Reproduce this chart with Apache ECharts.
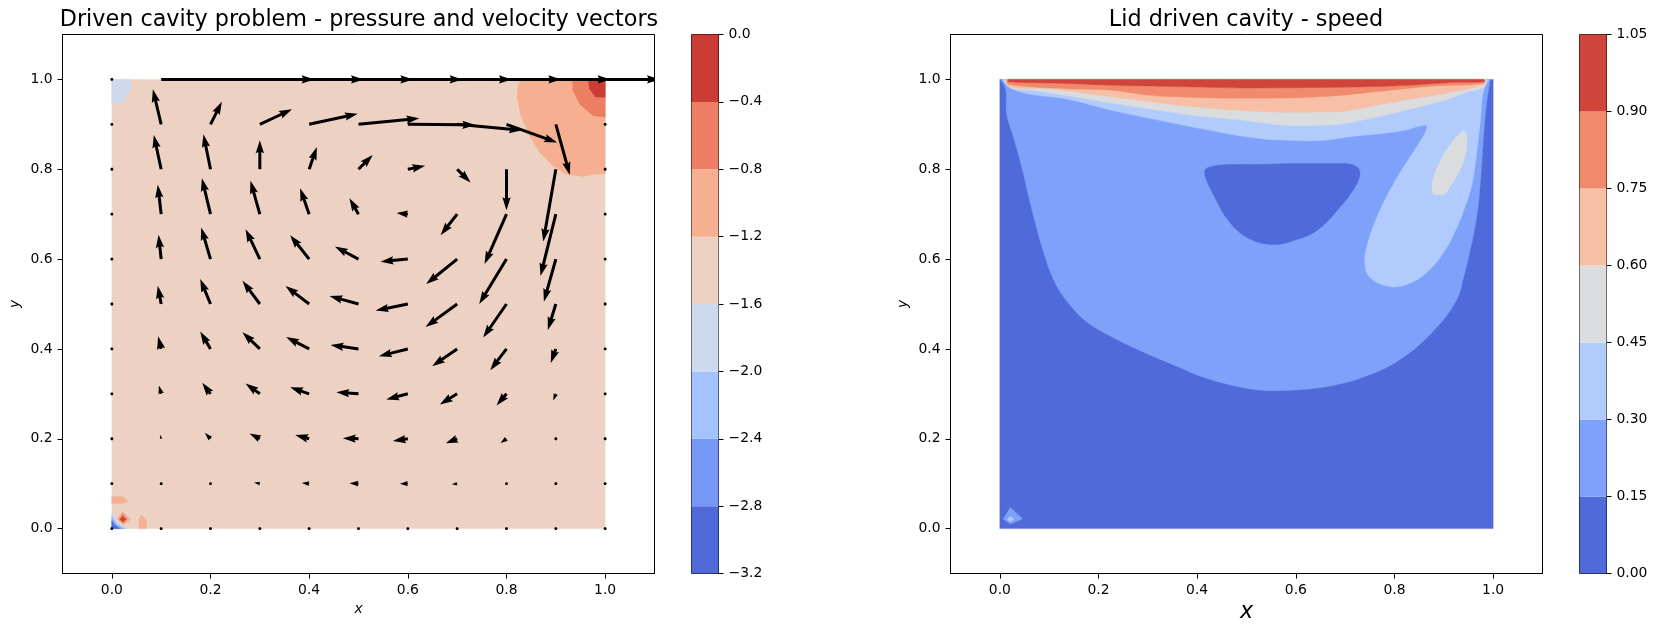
<!DOCTYPE html>
<html><head><meta charset="utf-8">
<style>html,body{margin:0;padding:0;background:#fff}#c{width:1656px;height:632px}</style>
<script src="https://cdn.jsdelivr.net/npm/echarts@6/dist/echarts.min.js"></script>
</head><body><div id="c"></div>
<script>
const TITLE_LEFT = 'Driven cavity problem - pressure and velocity vectors';
const TITLE_RIGHT = 'Lid driven cavity - speed';
const AXIS_TICKS = [0, 0.2, 0.4, 0.6, 0.8, 1.0];

const PRESSURE_LEVELS = [-3.2, -2.8, -2.4, -2.0, -1.6, -1.2, -0.8, -0.4, 0.0];
const PRESSURE_COLORS = ['#4f69d9', '#7597f6', '#a3c2fe', '#cdd9ec', '#edd1c2', '#f7af91', '#ec7f63', '#cc3c36'];
const SPEED_LEVELS = [0, 0.15, 0.30, 0.45, 0.60, 0.75, 0.90, 1.05];
const SPEED_COLORS = ['#4f6bd9', '#7ea2fa', '#b1cbfc', '#dbdcde', '#f6bfa6', '#f18a6d', '#cf453c'];

// velocity grid; rows of U and V run from y=0 to y=1, columns from x=0 to x=1
const GRID_X = [0, .1, .2, .3, .4, .5, .6, .7, .8, .9, 1];
const GRID_Y = [0, .1, .2, .3, .4, .5, .6, .7, .8, .9, 1];
const U = [
 [0, 0, 0, 0, 0, 0, 0, 0, 0, 0, 0],
 [0, -.001, -.002, -.037, -.048, -.059, -.052, -.035, -.003, 0, 0],
 [0, -.007, -.037, -.067, -.091, -.102, -.098, -.074, -.039, -.007, 0],
 [0, -.015, -.054, -.093, -.124, -.145, -.141, -.113, -.065, -.017, 0],
 [0, -.020, -.067, -.113, -.150, -.182, -.189, -.163, -.106, -.033, 0],
 [0, -.022, -.067, -.113, -.154, -.189, -.210, -.206, -.152, -.052, 0],
 [0, -.017, -.061, -.093, -.124, -.154, -.178, -.202, -.178, -.078, 0],
 [0, -.022, -.056, -.061, -.059, -.059, -.074, -.108, -.143, -.100, 0],
 [0, -.048, -.046, 0, .050, .093, .113, .087, 0, -.082, 0],
 [0, -.054, .074, .210, .317, .397, .440, .423, .330, .091, 0],
 [0, 1, 1, 1, 1, 1, 1, 1, 1, 1, 1]
];
const V = [
 [0, 0, 0, 0, 0, 0, 0, 0, 0, 0, 0],
 [0, .001, .001, .007, .004, .002, 0, -.004, 0, 0, 0],
 [0, .026, .039, .035, .024, .004, -.015, -.030, -.028, -.011, 0],
 [0, .054, .072, .067, .043, .011, -.037, -.069, -.076, -.043, 0],
 [0, .082, .113, .108, .078, .026, -.048, -.113, -.139, -.091, 0],
 [0, .119, .163, .152, .117, .052, -.043, -.150, -.219, -.169, 0],
 [0, .158, .206, .195, .156, .082, -.017, -.163, -.293, -.278, 0],
 [0, .191, .234, .217, .169, .104, .007, -.137, -.325, -.403, 0],
 [0, .223, .228, .189, .145, .093, .022, -.087, -.267, -.471, 0],
 [0, .228, .148, .098, .069, .039, -.004, -.039, -.119, -.330, 0],
 [0, 0, 0, 0, 0, 0, 0, 0, 0, 0, 0]
];

// contour regions, in x,y data coordinates
const P_CAVITY = [[0,0],[1,0],[1,1],[0,1]];
const P_TOPLEFT = [[0,1],[.038,1],[.037,.978],[.026,.959],[.020,.948],[0,.948]];
const P_TOPRIGHT_A = [[.827,1],[.822,.975],[.822,.959],[.828,.922],[.845,.878],[.868,.837],[.895,.807],[.919,.790],[.956,.784],[.976,.789],[1,.790],[1,1]];
const P_TOPRIGHT_B = [[.933,1],[.935,.974],[.949,.944],[.976,.919],[1,.916],[1,1]];
const P_TOPRIGHT_C = [[.966,1],[.968,.98],[.980,.961],[1,.960],[1,1]];
const P_LOW_STRIP = [[0,.071],[.022,.071],[.033,.061],[.022,.056],[0,.056]];
const P_LOW_SPIKE = [[.055,0],[.055,.019],[.060,.031],[.070,.019],[.070,0]];
const P_SPOT_A = [[.022,.038],[.038,.021],[.023,.008],[.011,.021]];
const P_SPOT_B = [[.022,.033],[.032,.021],[.023,.012],[.015,.021]];
const P_SPOT_C = [[.022,.027],[.028,.021],[.022,.015],[.017,.021]];
const P_CORNER_A = [[0,0],[0,.036],[.011,.014],[.025,.004],[.035,0]];
const P_CORNER_B = [[0,0],[0,.029],[.010,.011],[.022,.003],[.028,0]];
const P_CORNER_C = [[0,0],[0,.022],[.008,.009],[.018,.002],[.022,0]];
const P_CORNER_D = [[0,0],[0,.016],[.006,.007],[.012,.002],[.016,0]];

const S_CAVITY = [[0,0],[1,0],[1,1],[0,1]];
const S_015 = [[.001,1],[.012,.978],[.014,.922],[.026,.878],[.043,.811],[.059,.737],[.076,.663],[.090,.611],[.110,.552],[.137,.505],[.174,.462],[.218,.432],[.285,.396],[.366,.358],[.407,.339],[.474,.318],[.542,.307],[.609,.309],[.677,.319],[.744,.340],[.812,.377],[.879,.440],[.925,.507],[.940,.559],[.953,.618],[.964,.677],[.972,.744],[.978,.833],[.984,.921],[.989,.966],[.994,1]];
const S_030 = [[.005,1],[.019,.983],[.056,.968],[.137,.956],[.231,.930],[.333,.907],[.434,.885],[.501,.872],[.569,.865],[.648,.864],[.723,.874],[.771,.879],[.818,.886],[.864,.898],[.862,.881],[.839,.840],[.805,.781],[.771,.710],[.747,.640],[.740,.589],[.753,.556],[.798,.538],[.839,.550],[.872,.577],[.899,.614],[.920,.655],[.940,.707],[.957,.766],[.967,.840],[.974,.907],[.979,.966],[.986,.988],[.992,1]];
const S_045 = [[.009,1],[.021,.981],[.066,.976],[.136,.964],[.240,.945],[.380,.922],[.484,.910],[.589,.897],[.679,.899],[.771,.918],[.839,.936],[.906,.955],[.947,.972],[.980,.982],[.986,1]];
const S_060 = [[.012,1],[.021,.983],[.100,.979],[.206,.964],[.310,.950],[.415,.937],[.568,.927],[.686,.928],[.771,.944],[.839,.957],[.906,.970],[.980,.988],[.985,1]];
const S_075 = [[.014,1],[.017,.989],[.136,.979],[.226,.976],[.310,.964],[.394,.960],[.502,.958],[.659,.962],[.791,.976],[.875,.985],[.979,.991],[.982,1]];
const S_090 = [[.017,1],[.017,.995],[.139,.991],[.226,.987],[.401,.983],[.491,.981],[.711,.983],[.826,.987],[.916,.993],[.983,.995],[.980,1]];
const S_LOW_BLOB = [[.415,.796],[.425,.805],[.461,.810],[.535,.811],[.594,.813],[.702,.813],[.725,.804],[.730,.789],[.719,.759],[.689,.715],[.642,.663],[.595,.641],[.554,.632],[.501,.648],[.461,.689],[.434,.741],[.417,.781]];
const S_GRAY_BLOB = [[.940,.886],[.945,.881],[.947,.859],[.943,.829],[.930,.792],[.913,.762],[.901,.744],[.879,.743],[.876,.762],[.881,.788],[.896,.825],[.916,.859]];
const S_SPOT_A = [[.021,.047],[.046,.022],[.022,.010],[.007,.021]];
const S_SPOT_B = [[.021,.027],[.029,.021],[.021,.015],[.015,.021]];

const FONT = 'DejaVu Sans';
const TICK_PX = 5, SHAFT_PX = 2.6, QUIVER_X_PER_UNIT = 0.311;

function polygonSeries(gridIndex, pts, color, smooth) {
  return {
    type: 'custom', xAxisIndex: gridIndex, yAxisIndex: gridIndex, clip: true, silent: true,
    animation: false, data: [[0]],
    renderItem: (params, api) => {
      const xy = pts.map(p => api.coord(p));
      const xs = xy.map(p => p[0]), ys = xy.map(p => p[1]);
      const shape = { points: xy };
      if (smooth) {
        shape.smooth = smooth;
        shape.smoothConstraint = [[Math.min(...xs), Math.min(...ys)], [Math.max(...xs), Math.max(...ys)]];
      }
      return { type: 'polygon', shape, style: { fill: color, stroke: color, lineWidth: 0.4 } };
    }
  };
}

function arrowShape(px, py, dx, dy) {
  const w = SHAFT_PX, L = Math.hypot(dx, dy) / w;   // lengths in shaft widths
  let pts;
  if (L < 1) {
    pts = [];
    for (let k = 0; k < 6; k++) {
      const a = k * Math.PI / 3;
      pts.push([px + 0.62 * w * Math.cos(a), py + 0.62 * w * Math.sin(a)]);
    }
    return pts;
  }
  const hl = 5, hal = 4.5, hw = 1.6, sw = 0.58;
  let xs, ys;
  if (L < hl) {
    const s = L / hl;
    xs = [0, (hl - hal) * s, 0, hl * s];
    ys = [sw * s, sw * s, hw * s, 0];
  } else {
    xs = [0, L - hal, L - hl, L];
    ys = [sw, sw, hw, 0];
  }
  const c = dx / (L * w), sn = dy / (L * w);
  const poly = [];
  for (let i = 0; i < 4; i++) {
    poly.push([px + w * (xs[i] * c - ys[i] * sn), py + w * (xs[i] * sn + ys[i] * c)]);
  }
  for (let i = 2; i >= 0; i--) {
    poly.push([px + w * (xs[i] * c + ys[i] * sn), py + w * (xs[i] * sn - ys[i] * c)]);
  }
  return poly;
}

const quiverData = [];
GRID_Y.forEach((y, j) => GRID_X.forEach((x, i) => quiverData.push([x, y, U[j][i], V[j][i]])));

const quiverSeries = {
  type: 'custom', xAxisIndex: 0, yAxisIndex: 0, clip: true, silent: true, animation: false, z: 5,
  encode: { x: 0, y: 1 }, data: quiverData,
  renderItem: (params, api) => {
    const p = api.coord([api.value(0), api.value(1)]);
    const unit = api.size([QUIVER_X_PER_UNIT, 0])[0];
    return {
      type: 'polygon',
      shape: { points: arrowShape(p[0], p[1], api.value(2) * unit, -api.value(3) * unit) },
      style: { fill: '#000' }
    };
  }
};

function colorbarSeries(gridIndex, levels, colors) {
  return {
    type: 'custom', xAxisIndex: gridIndex, yAxisIndex: gridIndex, silent: true, animation: false,
    data: colors.map((c, i) => [levels[i], levels[i + 1]]),
    renderItem: (params, api) => {
      const a = api.coord([0, api.value(0)]), b = api.coord([1, api.value(1)]);
      return { type: 'rect', shape: { x: a[0], y: b[1], width: b[0] - a[0], height: a[1] - b[1] },
        style: { fill: colors[params.dataIndex] } };
    }
  };
}

const black = '#000';
const labelStyle = { color: black, fontFamily: FONT, fontSize: 13.9 };
function mainX(nameSize, gap, idx) {
  return { gridIndex: idx, type: 'value', min: -0.1, max: 1.1, position: 'bottom', splitLine: { show: false },
    axisLine: { onZero: false, lineStyle: { color: black, width: 1 } },
    axisTick: { length: TICK_PX, customValues: AXIS_TICKS, lineStyle: { color: black, width: 1 } },
    axisLabel: Object.assign({ margin: 10, customValues: AXIS_TICKS, formatter: v => v.toFixed(1) }, labelStyle),
    name: 'x', nameLocation: 'center', nameGap: gap, nameMoveOverlap: false,
    nameTextStyle: { color: black, fontFamily: FONT, fontStyle: 'italic', fontSize: nameSize } };
}
function mainY(idx) {
  return { gridIndex: idx, type: 'value', min: -0.1, max: 1.1, position: 'left', splitLine: { show: false },
    axisLine: { onZero: false, lineStyle: { color: black, width: 1 } },
    axisTick: { length: TICK_PX, customValues: AXIS_TICKS, lineStyle: { color: black, width: 1 } },
    axisLabel: Object.assign({ margin: 10, customValues: AXIS_TICKS, formatter: v => v.toFixed(1) }, labelStyle),
    name: 'y', nameLocation: 'center', nameGap: 40, nameMoveOverlap: false,
    nameTextStyle: { color: black, fontFamily: FONT, fontStyle: 'italic', fontSize: 13.9 } };
}
function barX(idx) {
  return { gridIndex: idx, type: 'value', min: 0, max: 1, show: false };
}
function barY(idx, levels, step, digits) {
  return { gridIndex: idx, type: 'value', min: levels[0], max: levels[levels.length - 1], interval: step,
    position: 'right', splitLine: { show: false },
    axisLine: { onZero: false, lineStyle: { color: black, width: 1 } },
    axisTick: { length: TICK_PX, lineStyle: { color: black, width: 1 } },
    axisLabel: Object.assign({ margin: 10, showMinLabel: true, showMaxLabel: true,
      formatter: v => v.toFixed(digits).replace('-', '\u2212') }, labelStyle) };
}

const frame = { show: true, backgroundColor: 'transparent', borderColor: black, borderWidth: 1, outerBoundsMode: 'none' };
const titleStyle = { fontFamily: FONT, fontSize: 22.3, fontWeight: 'normal', color: black };

const option = {
  backgroundColor: '#fff',
  animation: false,
  title: [
    { text: TITLE_LEFT, left: 354, top: 4, textAlign: 'center', textStyle: titleStyle },
    { text: TITLE_RIGHT, left: 1241, top: 4, textAlign: 'center', textStyle: titleStyle }
  ],
  grid: [
    Object.assign({ left: 62.5, top: 34.5, width: 592, height: 539 }, frame),
    Object.assign({ left: 950.5, top: 34.5, width: 592, height: 539 }, frame),
    Object.assign({ left: 691.5, top: 34.5, width: 27, height: 539 }, frame),
    Object.assign({ left: 1579.5, top: 34.5, width: 27, height: 539 }, frame)
  ],
  xAxis: [mainX(13.9, 29, 0), mainX(22.2, 28, 1), barX(2), barX(3)],
  yAxis: [mainY(0), mainY(1), barY(2, PRESSURE_LEVELS, 0.4, 1), barY(3, SPEED_LEVELS, 0.15, 2)],
  series: [
    polygonSeries(0, P_CAVITY, PRESSURE_COLORS[4]),
    polygonSeries(0, P_TOPLEFT, PRESSURE_COLORS[3]),
    polygonSeries(0, P_TOPRIGHT_A, PRESSURE_COLORS[5]),
    polygonSeries(0, P_TOPRIGHT_B, PRESSURE_COLORS[6]),
    polygonSeries(0, P_TOPRIGHT_C, PRESSURE_COLORS[7]),
    polygonSeries(0, P_LOW_STRIP, PRESSURE_COLORS[5]),
    polygonSeries(0, P_LOW_SPIKE, PRESSURE_COLORS[5]),
    polygonSeries(0, P_SPOT_A, PRESSURE_COLORS[5]),
    polygonSeries(0, P_SPOT_B, PRESSURE_COLORS[6]),
    polygonSeries(0, P_SPOT_C, PRESSURE_COLORS[7]),
    polygonSeries(0, P_CORNER_A, PRESSURE_COLORS[3]),
    polygonSeries(0, P_CORNER_B, PRESSURE_COLORS[2]),
    polygonSeries(0, P_CORNER_C, PRESSURE_COLORS[1]),
    polygonSeries(0, P_CORNER_D, PRESSURE_COLORS[0]),
    quiverSeries,
    polygonSeries(1, S_CAVITY, SPEED_COLORS[0]),
    polygonSeries(1, S_015, SPEED_COLORS[1], 0.4),
    polygonSeries(1, S_030, SPEED_COLORS[2], 0.4),
    polygonSeries(1, S_045, SPEED_COLORS[3], 0.4),
    polygonSeries(1, S_060, SPEED_COLORS[4], 0.4),
    polygonSeries(1, S_075, SPEED_COLORS[5], 0.4),
    polygonSeries(1, S_090, SPEED_COLORS[6], 0.4),
    polygonSeries(1, S_LOW_BLOB, SPEED_COLORS[0], 0.4),
    polygonSeries(1, S_GRAY_BLOB, SPEED_COLORS[3], 0.4),
    polygonSeries(1, S_SPOT_A, SPEED_COLORS[1]),
    polygonSeries(1, S_SPOT_B, SPEED_COLORS[2]),
    colorbarSeries(2, PRESSURE_LEVELS, PRESSURE_COLORS),
    colorbarSeries(3, SPEED_LEVELS, SPEED_COLORS)
  ]
};
echarts.init(document.getElementById('c'), null, { renderer: 'canvas' }).setOption(option);
</script></body></html>
